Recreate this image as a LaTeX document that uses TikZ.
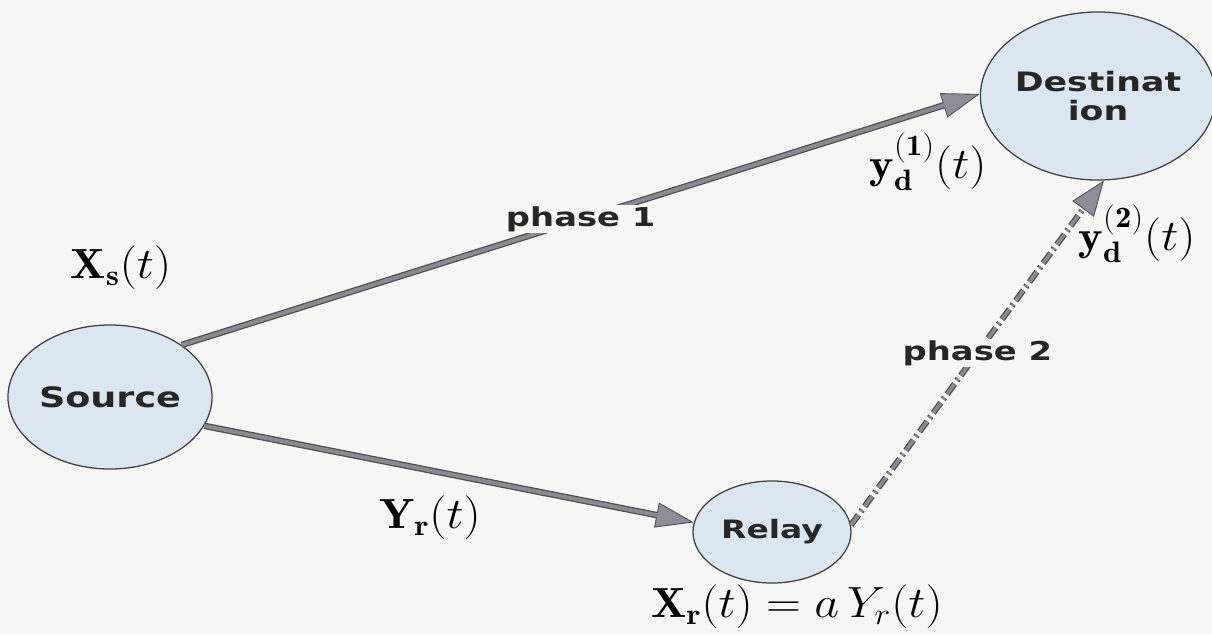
\documentclass[tikz,border=0pt]{standalone}
\usepackage{amsmath}
\usepackage{graphicx}
\usepackage{fontspec}
\setsansfont[FakeStretch=1.3]{DejaVu Sans}
\usepackage{xcolor}
\usetikzlibrary{arrows.meta,shapes.geometric}

\definecolor{pagebg}{RGB}{246,246,245}
\definecolor{nodefill}{RGB}{220,230,241}
\definecolor{linedark}{RGB}{78,78,84}
\definecolor{linegray}{RGB}{138,138,144}
\definecolor{tipfill}{RGB}{140,142,152}
\newcommand{\wmath}[1]{\scalebox{1.38}[1.25]{$#1$}}

\begin{document}
\begin{tikzpicture}[x=0.025cm,y=-0.025cm,
  station/.style={ellipse,draw=black!75,line width=0.9pt,fill=nodefill,
    inner sep=0pt,text=black!85},
  link/.style={line width=4.6pt,draw=linedark,
    -{Triangle[length=27pt,width=18pt,line width=0.6pt,fill=tipfill]},
    postaction={draw=linegray,line width=2.8pt,-,shorten >=26pt}},
  dashlink/.style={line width=4.3pt,draw=linedark,
    dash pattern=on 9pt off 3pt on 1.5pt off 3pt,
    -{Triangle[length=25pt,width=19pt,line width=0.6pt,fill=tipfill]},
    postaction={draw=linegray,line width=2.5pt,-,shorten >=24pt,
      dash pattern=on 9pt off 3pt on 1.5pt off 3pt}},
  phase/.style={font=\sffamily\bfseries\fontsize{18.5}{20}\selectfont,
    fill=pagebg,inner sep=1pt,text=black!85},
  lbl/.style={font=\fontsize{24}{26}\selectfont,inner sep=0pt}]
  \useasboundingbox (0,0) rectangle (1212,634);
  \fill[pagebg] (0,0) rectangle (1212,634);
  % stations
  \node[station,minimum width=5.1cm,minimum height=3.6cm,
    font=\sffamily\bfseries\fontsize{20}{22}\selectfont] (src) at (110,397) {Source};
  \node[station,minimum width=3.95cm,minimum height=2.55cm,
    font=\sffamily\bfseries\fontsize{18}{20}\selectfont] (rly) at (772,532) {Relay};
  \node[station,minimum width=5.7cm,minimum height=4.2cm,align=center,
    font=\sffamily\bfseries\fontsize{19}{20}\selectfont] (dst) at (1098,96) {Destinat\\ion};
  % links
  \draw[link] (src.36) -- (dst.179) node[phase,pos=0.5] (ph1) {phase 1};
  \draw[link] (src.-17) -- (rly.173);
  \draw[dashlink] (rly.5) -- (dst.-86) node[phase,pos=0.5] (ph2) {phase 2};
  % signals
  \node[lbl] (xs) at (121,268) {\wmath{\mathbf{X}_{\mathbf{s}}(t)}};
  \node[lbl] (yd1) at (928,162) {\wmath{\mathbf{y}^{\mathbf{(1)}}_{\mathbf{d}}(t)}};
  \node[lbl] (yd2) at (1137,234) {\wmath{\mathbf{y}^{\mathbf{(2)}}_{\mathbf{d}}(t)}};
  \node[lbl] (yr) at (430,518) {\wmath{\mathbf{Y}_{\mathbf{r}}(t)}};
  \node[lbl] (xr) at (797,607) {\wmath{\mathbf{X}_{\mathbf{r}}(t)=a\,Y_r(t)}};
\end{tikzpicture}
\end{document}
